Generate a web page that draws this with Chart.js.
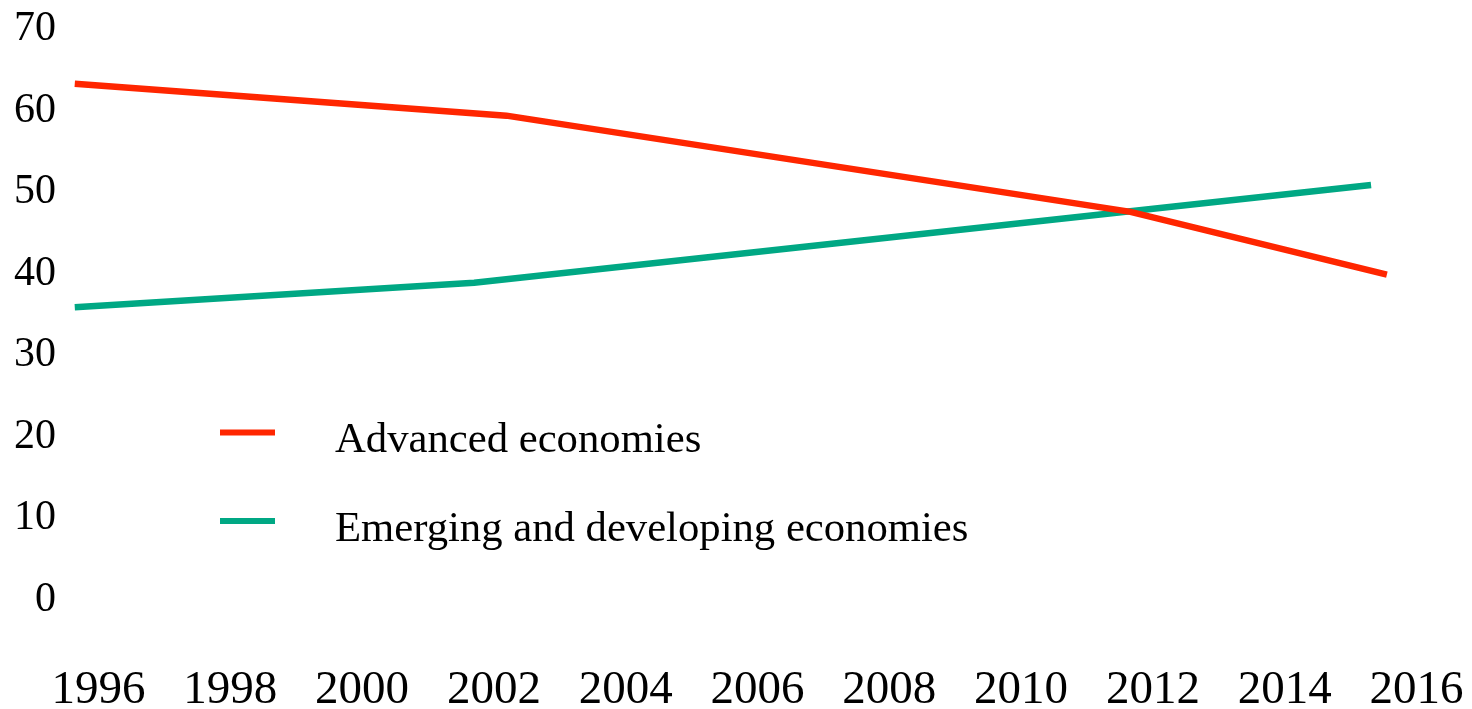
<!DOCTYPE html>
<html lang="en">
<head>
<meta charset="utf-8">
<title>Advanced and emerging economies</title>
<script src="https://cdn.jsdelivr.net/npm/chart.js@4.4.1/dist/chart.umd.min.js"></script>
<style>
    html, body { margin: 0; padding: 0; background: #ffffff; }
    #contenedor { position: relative; width: 1472px; height: 709px; }
</style>
</head>
<body>
<div id="contenedor"><canvas id="graficoEconomias"></canvas></div>
<script>
'use strict';

// Share of world total, percent. Years are fractional where the lines bend.
const ANIOS_AVANZADAS = [1995.64, 2002.19, 2011.66, 2015.55];
const VALORES_AVANZADAS = [63.3, 59.4, 47.6, 39.9];

const ANIOS_EMERGENTES = [1995.64, 2001.70, 2015.31];
const VALORES_EMERGENTES = [35.9, 38.9, 50.9];

const ETIQUETAS_ANIOS = [1996, 1998, 2000, 2002, 2004, 2006, 2008, 2010, 2012, 2014, 2016];
const ETIQUETAS_Y = [0, 10, 20, 30, 40, 50, 60, 70];

const NOMBRES_SERIES = ['Advanced economies', 'Emerging and developing economies'];
const COLORES_SERIES = ['#ff2600', '#00a884'];

const FUENTE = '"Liberation Serif", "Times New Roman", serif';

function puntos(anios, valores) {
    return anios.map((a, i) => ({ x: a, y: valores[i] }));
}

// Legend drawn inside the plot area, below the lines
const leyendaInterna = {
    id: 'leyendaInterna',
    afterDatasetsDraw(chart) {
        const ctx = chart.ctx;
        ctx.save();
        ctx.font = '42.7px ' + FUENTE;
        ctx.textBaseline = 'alphabetic';
        ctx.textAlign = 'left';
        chart.data.datasets.forEach((ds, i) => {
            const y = 432.5 + i * 88.5;
            ctx.strokeStyle = ds.borderColor;
            ctx.lineWidth = 6;
            ctx.lineCap = 'butt';
            ctx.beginPath();
            ctx.moveTo(220, y);
            ctx.lineTo(275, y);
            ctx.stroke();
            ctx.fillStyle = '#000000';
            ctx.fillText(ds.label, 335, y + 19.5);
        });
        ctx.restore();
    }
};

function crearGrafico() {
    const canvas = document.getElementById('graficoEconomias');

    new Chart(canvas, {
        type: 'line',
        data: {
            datasets: [
                {
                    label: NOMBRES_SERIES[0],
                    data: puntos(ANIOS_AVANZADAS, VALORES_AVANZADAS),
                    borderColor: COLORES_SERIES[0],
                    backgroundColor: COLORES_SERIES[0],
                    borderWidth: 6.5,
                    borderCapStyle: 'butt',
                    borderJoinStyle: 'miter',
                    pointRadius: 0,
                    tension: 0,
                    fill: false
                },
                {
                    label: NOMBRES_SERIES[1],
                    data: puntos(ANIOS_EMERGENTES, VALORES_EMERGENTES),
                    borderColor: COLORES_SERIES[1],
                    backgroundColor: COLORES_SERIES[1],
                    borderWidth: 6.5,
                    borderCapStyle: 'butt',
                    borderJoinStyle: 'miter',
                    pointRadius: 0,
                    tension: 0,
                    fill: false
                }
            ]
        },
        options: {
            responsive: true,
            maintainAspectRatio: false,
            animation: false,
            layout: {
                padding: { left: 0, right: 50, top: 28, bottom: 0 }
            },
            plugins: {
                legend: { display: false },
                tooltip: { enabled: false }
            },
            scales: {
                x: {
                    type: 'linear',
                    min: 1995.416,
                    max: 2016.083,
                    // tick marks stay hidden; their length only pushes the labels down
                    grid: { display: false, drawTicks: true, tickLength: 62 },
                    border: { display: false },
                    afterBuildTicks: eje => {
                        eje.ticks = ETIQUETAS_ANIOS.map(v => ({ value: v }));
                    },
                    afterFit: eje => { eje.height = 109; },
                    ticks: {
                        color: '#000000',
                        font: { family: FUENTE, size: 47 },
                        padding: 0,
                        maxRotation: 0,
                        autoSkip: false,
                        callback: v => String(v)
                    }
                },
                y: {
                    min: 0,
                    max: 70,
                    grid: { display: false, drawTicks: false },
                    border: { display: false },
                    afterBuildTicks: eje => {
                        eje.ticks = ETIQUETAS_Y.map(v => ({ value: v }));
                    },
                    afterFit: eje => { eje.width = 60; },
                    ticks: {
                        color: '#000000',
                        font: { family: FUENTE, size: 42 },
                        padding: 4
                    }
                }
            }
        },
        plugins: [leyendaInterna]
    });
}

document.addEventListener('DOMContentLoaded', crearGrafico);
</script>
</body>
</html>
